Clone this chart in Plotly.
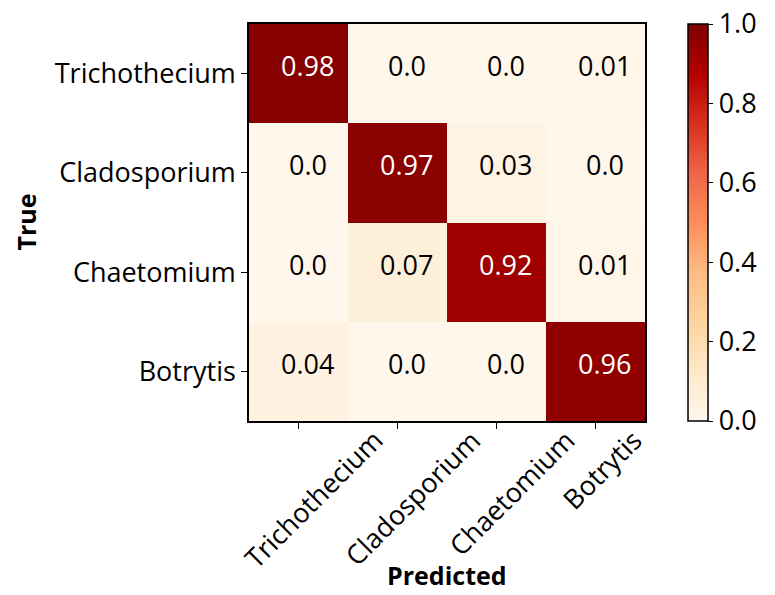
import plotly.graph_objects as go

classes = ["Trichothecium", "Cladosporium", "Chaetomium", "Botrytis"]
values = [
    [0.98, 0.00, 0.00, 0.01],
    [0.00, 0.97, 0.03, 0.00],
    [0.00, 0.07, 0.92, 0.01],
    [0.04, 0.00, 0.00, 0.96],
]
cbar_ticks = [0.0, 0.2, 0.4, 0.6, 0.8, 1.0]

FONT = "Open Sans"
FS = 27
W, H = 775, 595
L, T = 249, 24
R = W - 645
B = H - 421
PW = W - L - R
PH = H - T - B

fig = go.Figure()
fig.add_trace(go.Heatmap(
    z=values, x=[0, 1, 2, 3], y=[0, 1, 2, 3],
    colorscale="OrRd", zmin=0, zmax=1,
    colorbar=dict(
        x=(688 - L) / PW, xanchor="left", xpad=0,
        y=0.5, yanchor="middle", len=1.0, ypad=0,
        thickness=20, outlinewidth=1.5, outlinecolor="black",
        tickmode="array",
        tickvals=cbar_ticks, ticktext=[f"{v:.1f}" for v in cbar_ticks],
        ticks="outside", ticklen=5, tickwidth=1.2, tickcolor="black",
        ticklabeloverflow="allow",
        tickfont=dict(family=FONT, size=FS, color="black"),
    ),
    hoverinfo="skip",
))

annotations = []
for i, row in enumerate(values):
    for j, v in enumerate(row):
        annotations.append(dict(
            x=j, y=i, xref="x", yref="y",
            text=f"{v}" if v != 0 else "0.0",
            showarrow=False, xshift=9, yshift=8,
            font=dict(family=FONT, size=FS, color="white" if v > 0.5 else "black"),
        ))

for j, c in enumerate(classes):
    nudge = 15 if len(c) > 9 else 6
    annotations.append(dict(
        x=j, y=0, xref="x", yref="paper", text=c, showarrow=False,
        textangle=-45, xanchor="center", yanchor="top", xshift=nudge, yshift=2,
        font=dict(family=FONT, size=FS, color="black"),
    ))

annotations.append(dict(
    x=0.5, y=-B / PH, xref="paper", yref="paper", text="<b>Predicted</b>",
    showarrow=False, xanchor="center", yanchor="bottom", yshift=1,
    font=dict(family=FONT, size=25, color="black"),
))
annotations.append(dict(
    x=0, y=0.5, xref="paper", yref="paper", text="<b>True</b>",
    showarrow=False, xanchor="center", yanchor="middle", xshift=-(L - 25),
    textangle=-90,
    font=dict(family=FONT, size=25, color="black"),
))

fig.update_layout(
    width=W, height=H,
    margin=dict(l=L, r=R, t=T, b=B, pad=0, autoexpand=False),
    paper_bgcolor="white", plot_bgcolor="white",
    annotations=annotations,
    xaxis=dict(
        range=[-0.5, 3.5], autorange=False, automargin=False,
        tickvals=[0, 1, 2, 3], showticklabels=False,
        ticks="outside", ticklen=6, tickwidth=1.2, tickcolor="black",
        showline=True, linecolor="black", linewidth=1.5, mirror=True,
        showgrid=False, zeroline=False,
    ),
    yaxis=dict(
        range=[3.5, -0.5], autorange=False, automargin=False,
        tickvals=[0, 1, 2, 3], ticktext=classes,
        ticks="outside", ticklen=6, tickwidth=1.2, tickcolor="black",
        showline=True, linecolor="black", linewidth=1.5, mirror=True,
        showgrid=False, zeroline=False,
        tickfont=dict(family=FONT, size=FS, color="black"),
    ),
)

fig.write_html(
    "out.html",
    config={"displayModeBar": False},
    post_script="document.body.style.margin='0';document.body.style.overflow='hidden';",
)
